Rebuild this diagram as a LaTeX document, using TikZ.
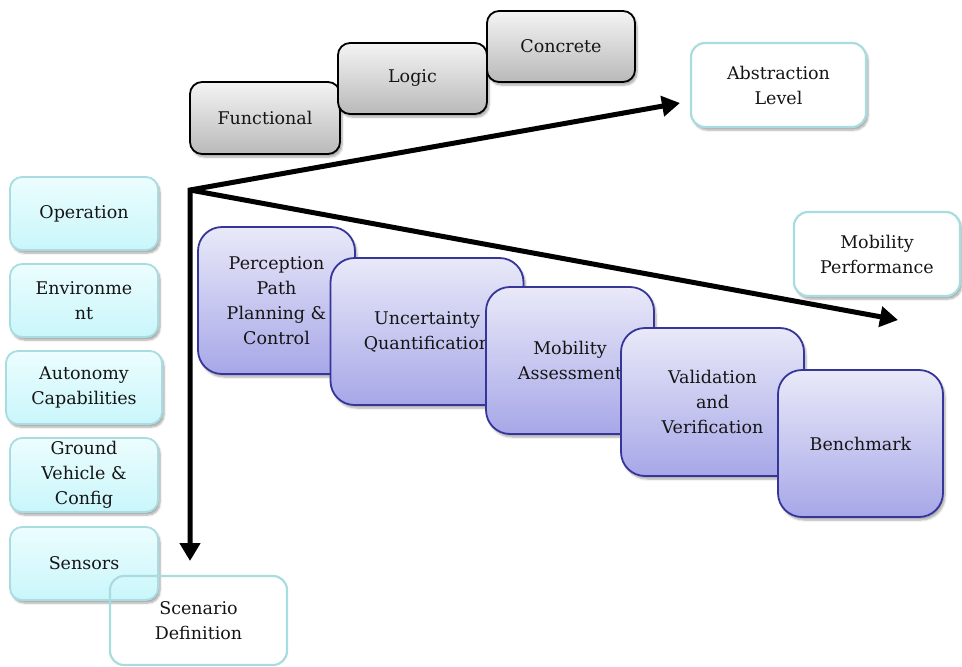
\documentclass[tikz,border=0pt]{standalone}
\usepackage{fontspec}
\setmainfont{DejaVu Serif}
\usetikzlibrary{arrows.meta,shadows.blur}
\definecolor{txt}{HTML}{151515}
\definecolor{grayTop}{HTML}{F4F4F4}
\definecolor{grayBot}{HTML}{B9B9B9}
\definecolor{cyanTop}{HTML}{ECFDFE}
\definecolor{cyanBot}{HTML}{C9F6FB}
\definecolor{cyanEdge}{HTML}{A9DCE0}
\definecolor{purpTop}{HTML}{E9E9F9}
\definecolor{purpBot}{HTML}{A7A7E8}
\definecolor{purpEdge}{HTML}{35359A}
\tikzset{
  lbl/.style={font=\fontsize{17.5}{25}\selectfont, text=txt, align=center, inner sep=2pt},
  softshadow/.style={blur shadow={shadow xshift=2pt, shadow yshift=-3pt, shadow blur steps=6, shadow opacity=35}},
  levelbox/.style={lbl, draw=black, line width=1.8pt, rounded corners=12pt,
    top color=grayTop, bottom color=grayBot, softshadow},
  scenbox/.style={lbl, draw=cyanEdge, line width=1.8pt, rounded corners=12pt,
    top color=cyanTop, bottom color=cyanBot, softshadow},
  axisbox/.style={lbl, draw=cyanEdge, line width=2.2pt, rounded corners=14pt, fill=white, softshadow},
  stagebox/.style={lbl, draw=purpEdge, line width=1.8pt, rounded corners=24pt,
    top color=purpTop, bottom color=purpBot, softshadow},
  axis/.style={line width=5pt, -{Triangle[length=18pt,width=20pt]}}
}
\begin{document}
\begin{tikzpicture}[x=1pt,y=-1pt]
\useasboundingbox (0,0) rectangle (962,667);

% abstraction levels
\node[levelbox, minimum width=150pt, minimum height=72pt] (func) at (265,118) {Functional};
\node[levelbox, minimum width=149pt, minimum height=71pt] (logic) at (412.5,78.5) {Logic};
\node[levelbox, minimum width=148pt, minimum height=71pt] (conc) at (561,46.5) {Concrete};

% axis captions
\node[axisbox, minimum width=175pt, minimum height=84pt] (abs) at (778.5,85) {Abstraction\\Level};
\node[axisbox, minimum width=166pt, minimum height=84pt] (perf) at (877,254) {Mobility\\Performance};

% scenario elements
\node[scenbox, minimum width=148pt, minimum height=73pt] (oper) at (84,213.5) {Operation};
\node[scenbox, minimum width=148pt, minimum height=73pt] (env) at (84,300.5) {Environme\\nt};
\node[scenbox, minimum width=156pt, minimum height=73pt] (auto) at (84,387.5) {Autonomy\\Capabilities};
\node[scenbox, minimum width=148pt, minimum height=74pt] (gv) at (84,475) {Ground\\Vehicle \&\\Config};
\node[scenbox, minimum width=148pt, minimum height=73pt] (sens) at (84,563.5) {Sensors};
\node[lbl, draw=cyanEdge, line width=2.2pt, rounded corners=14pt, minimum width=177pt, minimum height=89pt] (scen) at (198.5,620.5) {Scenario\\Definition};

% axes
\coordinate (O) at (190,190);
\coordinate (upEnd) at (680,103);
\coordinate (downEnd) at (190,561);
\coordinate (rightEnd) at (898,320);
\draw[line width=5pt, line join=miter, {Triangle[length=18pt,width=20pt]}-{Triangle[length=18pt,width=20pt]}] (upEnd) -- (O) -- (downEnd);
\draw[axis] (O) -- (rightEnd);

% stages
\node[stagebox, minimum width=157pt, minimum height=147pt] (perc) at (276.5,300.5) {Perception\\Path\\Planning \&\\Control};
\node[stagebox, minimum width=193pt, minimum height=147pt] (unc) at (427,331.5) {Uncertainty\\Quantification};
\node[stagebox, minimum width=168pt, minimum height=147pt] (mob) at (570,360.5) {Mobility\\Assessment};
\node[stagebox, minimum width=183pt, minimum height=148pt] (val) at (712.5,402) {Validation\\and\\Verification};
\node[stagebox, minimum width=165pt, minimum height=147pt] (bench) at (860.5,443.5) {Benchmark};
\end{tikzpicture}
\end{document}
